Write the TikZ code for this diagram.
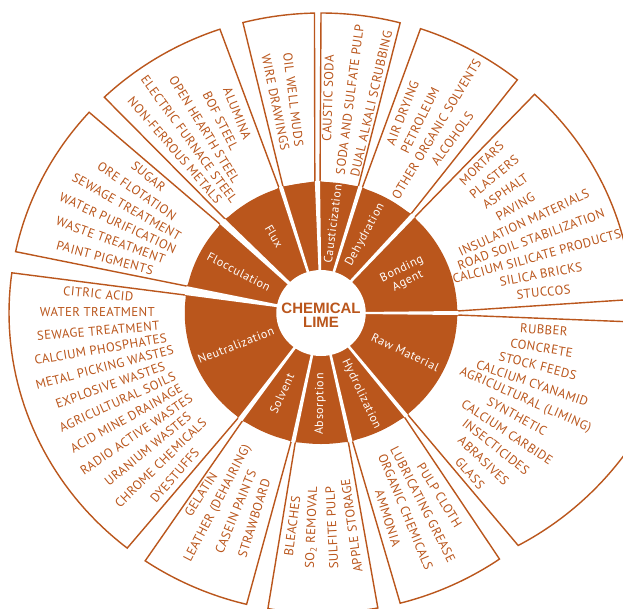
\documentclass[tikz,border=0pt]{standalone}
\usepackage{fontspec}
\setmainfont{PT Sans}
\newfontfamily\boldsans{Liberation Sans}
\newfontfamily\boxfont{PT Sans}[LetterSpace=3]
\newfontfamily\ringfont{PT Sans}[LetterSpace=5]
\usetikzlibrary{calc}
\definecolor{lb}{RGB}{186,86,28}
% sector box: gLow, dLow, outer start, outer end, gHigh, dHigh
\newcommand\sectorbox[6]{%
  \draw[boxline] ($(#1:131)+(#1+90:#2)$) -- (#3:300)
    -- plot[domain=#3:#4, samples=40] (\x:300)
    -- ($(#5:131)+(#5-90:#6)$) -- cycle;}
% white gap strip in the brown ring: angle, inner half width, outer half width
\newcommand\gapstrip[3]{%
  \fill[white] ($(#1:36)+(#1-90:#2)$) -- ($(#1:132)+(#1-90:#3)$)
    -- ($(#1:132)+(#1+90:#3)$) -- ($(#1:36)+(#1+90:#2)$) -- cycle;}
% fan of radial text lines: start angle, step, rotation offset, list
\newcommand\fanlines[4]{%
  \foreach \tx [count=\j from 0] in {#4}{%
    \pgfmathsetmacro\myang{#1+\j*(#2)}%
    \pgfmathsetmacro\myrot{\myang+#3}%
    \node[boxtext, rotate=\myrot] at (\myang:215) {\tx};}}
\begin{document}
\begin{tikzpicture}[x=1pt,y=1pt,
  boxtext/.style={text=lb, font=\boxfont\fontsize{12.8}{13}\selectfont, inner sep=0pt},
  ringtext/.style={text=white, font=\ringfont\fontsize{12}{13.5}\selectfont, inner sep=0pt, align=center},
  boxline/.style={draw=lb, line width=1.4pt, fill=white, line join=miter}]
\useasboundingbox (0,-608) rectangle (623,0);
\clip (0,-608) rectangle (623,0);
\fill[white] (0,-608) rectangle (623,0);
\begin{scope}[shift={(321,-313)}, xscale=1.04]
  % outer boxes
  \sectorbox{0}{2.0}{2.6}{46.8}{47.8}{2.4}
  \sectorbox{47.8}{2.4}{51.0}{71.4}{73.3}{2.0}
  \sectorbox{73.3}{2.0}{75.3}{90.0}{91.5}{2.5}
  \sectorbox{91.5}{2.5}{91.2}{104.5}{107.0}{2.0}
  \sectorbox{107.0}{2.0}{108.9}{134.0}{136.0}{3.5}
  \sectorbox{136.0}{3.5}{138.0}{168.2}{170.2}{4.5}
  \sectorbox{170.2}{4.5}{172.3}{231.6}{233.9}{2.5}
  \sectorbox{233.9}{2.5}{235.7}{256.2}{258.3}{2.0}
  \sectorbox{258.3}{2.0}{260.2}{280.5}{282.4}{2.0}
  \sectorbox{282.4}{2.0}{284.7}{304.9}{308.5}{2.0}
  \draw[boxline] ($(308.5:131)+(398.5:2)$) -- (309.2:300)
    -- plot[domain=309.2:358.2, samples=50] (\x:{300+(\x-309.2)*48/49})
    -- ($(360:131)+(270:2)$) -- cycle;
  % brown ring
  \fill[lb] (0,0) circle[radius=131];
  \gapstrip{0}{1.0}{2.0}
  \gapstrip{47.8}{1.2}{2.4}
  \gapstrip{73.3}{1.2}{2.0}
  \gapstrip{91.5}{1.2}{2.5}
  \gapstrip{107.0}{1.2}{2.0}
  \gapstrip{136.0}{1.5}{3.5}
  \gapstrip{170.2}{1.2}{4.5}
  \gapstrip{233.9}{1.2}{2.5}
  \gapstrip{258.3}{1.2}{2.0}
  \gapstrip{282.4}{1.2}{2.0}
  \gapstrip{308.5}{1.2}{2.0}
  % centre
  \fill[white] (0,0) circle[radius=43];
  \node[text=lb, font=\boldsans\bfseries\fontsize{15}{14}\selectfont, align=center] (center) at (0,-2) {CHEMICAL\\LIME};
  % ring labels
  \node[ringtext, rotate=26] (bond) at (25:89) {Bonding\\Agent};
  \node[ringtext, rotate=61.5] (dehy) at (61.5:89) {Dehydration};
  \node[ringtext, rotate=82.8] (caus) at (82.8:90) {Causticization};
  \node[ringtext, rotate=300.5] (flux) at (120.5:89) {Flux};
  \node[ringtext, rotate=332.5] (floc) at (152.5:89) {Flocculation};
  \node[ringtext, rotate=21.5] (neut) at (201.5:88) {Neutralization};
  \node[ringtext, rotate=65] (solv) at (245:89) {Solvent};
  \node[ringtext, rotate=89.5] (abso) at (269.5:91) {Absorption};
  \node[ringtext, rotate=-64.5] (hydr) at (-64.5:90) {Hydrolization};
  \node[ringtext, rotate=-25.8] (rawm) at (-25.8:90) {Raw Material};
  % box texts
  \fanlines{-4.48}{-4.86}{0}{RUBBER,CONCRETE,STOCK FEEDS,CALCIUM CYANAMID,AGRICULTURAL (LIMING),SYNTHETIC,CALCIUM CARBIDE,INSECTICIDES,ABRASIVES,GLASS}
  \fanlines{44.09}{-4.81}{0}{MORTARS,PLASTERS,ASPHALT,PAVING,INSULATION MATERIALS,ROAD SOIL STABILIZATION,CALCIUM SILICATE PRODUCTS,SILICA BRICKS,STUCCOS}
  \fanlines{68.58}{-4.85}{0}{AIR DRYING,PETROLEUM,OTHER ORGANIC SOLVENTS,ALCOHOLS}
  \fanlines{88.2}{-5.6}{0}{CAUSTIC SODA,SODA AND SULFATE PULP,DUAL ALKALI SCRUBBING}
  \fanlines{97.1}{4.6}{180}{OIL WELL MUDS,WIRE DRAWINGS}
  \fanlines{112.0}{4.7}{180}{ALUMINA,BOF STEEL,OPEN HEARTH STEEL,ELECTRIC FURNACE STEEL,NON-FERROUS METALS}
  \fanlines{140.5}{4.92}{180}{SUGAR,ORE FLOTATION,SEWAGE TREATMENT,WATER PURIFICATION,WASTE TREATMENT,PAINT PIGMENTS}
  \fanlines{174.9}{4.93}{180}{CITRIC ACID,WATER TREATMENT,SEWAGE TREATMENT,CALCIUM PHOSPHATES,METAL PICKING WASTES,EXPLOSIVE WASTES,AGRICULTURAL SOILS,ACID MINE DRAINAGE,RADIO ACTIVE WASTES,URANIUM WASTES,CHROME CHEMICALS,DYESTUFFS}
  \fanlines{237.5}{5.03}{180}{GELATIN,LEATHER (DEHAIRING),CASEIN PAINTS,STRAWBOARD}
  \fanlines{262.6}{5.1}{180}{BLEACHES,SO\textsubscript{2} REMOVAL,SULFITE PULP,APPLE STORAGE}
  \fanlines{-58.0}{-4.87}{0}{PULP CLOTH,LUBRICATING GREASE,ORGANIC CHEMICALS,AMMONIA}
\end{scope}
\end{tikzpicture}
\end{document}
